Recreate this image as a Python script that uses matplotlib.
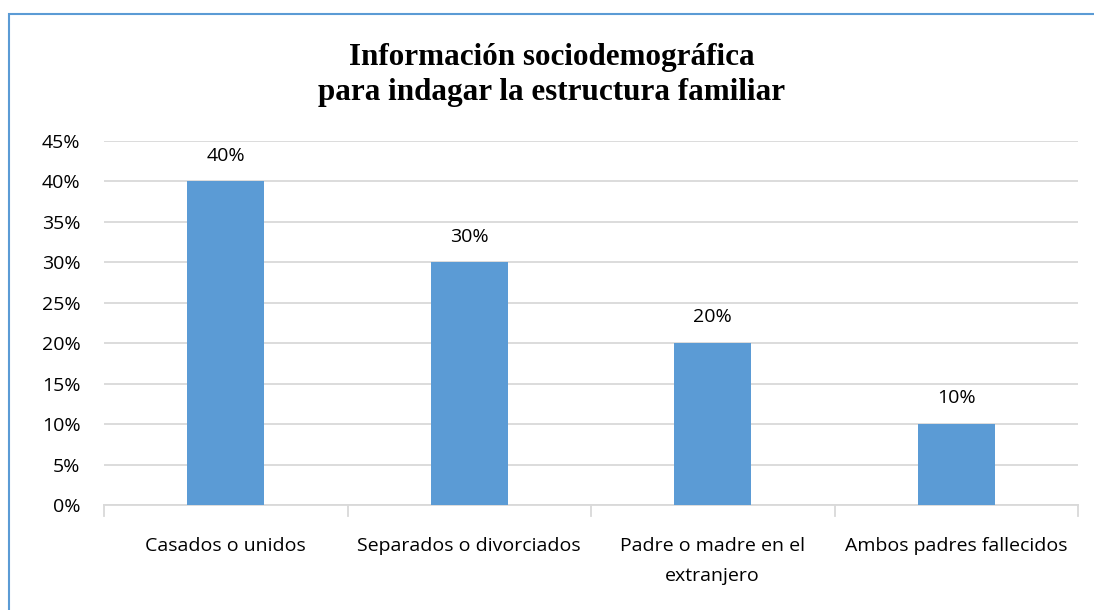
import matplotlib.pyplot as plt
from matplotlib.patches import Rectangle
from matplotlib.ticker import PercentFormatter

# Data
categories = ['Casados o unidos', 'Separados o divorciados',
              'Padre o madre en el\nextranjero', 'Ambos padres fallecidos']
values = [40, 30, 20, 10]
yticks = [0, 5, 10, 15, 20, 25, 30, 35, 40, 45]

bar_color = '#5B9BD5'
grid_color = '#D9D9D9'
text_color = '#000000'

plt.rcParams['font.family'] = ['Open Sans', 'DejaVu Sans']

fig = plt.figure(figsize=(10.94, 6.10), dpi=100)
ax = fig.add_axes([104 / 1094, 1 - 505 / 610, (1078 - 104) / 1094, (505 - 141) / 610])

x = range(len(categories))
ax.bar(x, values, width=0.316, color=bar_color, zorder=3)
for xi, v in zip(x, values):
    ax.annotate(f'{v}%', (xi, v), xytext=(0, 15), textcoords='offset points',
                ha='center', va='baseline', fontsize=14, color=text_color)

ax.set_xlim(-0.5, len(categories) - 0.5)
ax.set_ylim(0, 45)
ax.set_yticks(yticks)
ax.yaxis.set_major_formatter(PercentFormatter(decimals=0))
ax.grid(axis='y', color=grid_color, linewidth=1.3, zorder=0)

ax.set_xticks(list(x))
ax.set_xticklabels(categories, fontsize=14, color=text_color, linespacing=1.85)
ax.tick_params(axis='x', length=0, pad=23)
ax.tick_params(axis='y', length=0, pad=17, labelsize=14, labelcolor=text_color)

for s in ['top', 'right', 'left']:
    ax.spines[s].set_visible(False)
ax.spines['bottom'].set_color(grid_color)
ax.spines['bottom'].set_linewidth(1.3)

# small tick marks at category boundaries
for b in [-0.5, 0.5, 1.5, 2.5, 3.5]:
    ax.plot([b, b], [0, -1.3], color=grid_color, linewidth=1.3, clip_on=False)

fig.text(0.504, 1 - 75 / 610, 'Información sociodemográfica\npara indagar la estructura familiar',
         ha='center', va='center', fontsize=22.4, fontweight='bold',
         family=['Liberation Serif', 'DejaVu Serif'], linespacing=1.3)

# chart border (only left and top visible in the crop)
fig.patches.append(Rectangle((9 / 1094, -0.05), 1.2, 1 - 14 / 610 + 0.05,
                             transform=fig.transFigure, fill=False,
                             edgecolor=bar_color, linewidth=1.5))

fig.savefig('out.png', dpi=100)
